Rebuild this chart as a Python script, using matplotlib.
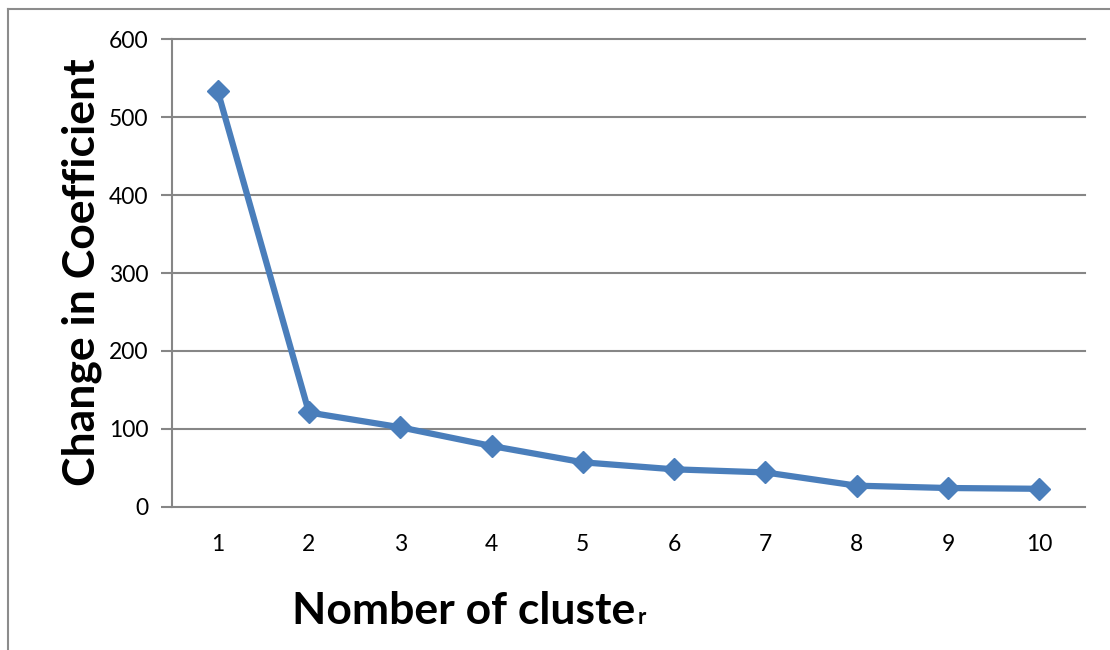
import matplotlib
matplotlib.use("Agg")
import matplotlib.pyplot as plt
from matplotlib.lines import Line2D

# Change in coefficient for each number of clusters
clusters = [1, 2, 3, 4, 5, 6, 7, 8, 9, 10]
change = [534, 121, 102, 78, 57, 48, 44, 27, 24, 23]
y_ticks = [0, 100, 200, 300, 400, 500, 600]

W, H = 1110, 650
fig = plt.figure(figsize=(W / 100, H / 100), dpi=100)
plt.rcParams["font.family"] = ["Lato", "DejaVu Sans"]

grid_col = "#868686"
line_col = "#4A7EBB"

ax = fig.add_axes([172 / W, 1 - 506.7 / H, (1085 - 172) / W, (506.7 - 39.5) / H])
ax.set_xlim(0.5, 10.5)
ax.set_ylim(0, 600)
ax.set_yticks(y_ticks)
ax.set_xticks(clusters)
ax.set_xticklabels([str(c) for c in clusters])
for yv in y_ticks[1:]:
    ax.axhline(yv, color=grid_col, linewidth=1.5, clip_on=False, zorder=1)
for side in ["top", "right"]:
    ax.spines[side].set_visible(False)
for side in ["left", "bottom"]:
    ax.spines[side].set_color(grid_col)
    ax.spines[side].set_linewidth(1.5)
ax.tick_params(axis="y", length=8, width=1.5, color=grid_col, labelsize=16.5, pad=9)
ax.tick_params(axis="x", length=0, labelsize=16.5, pad=20)

ax.plot(clusters, change, color=line_col, linewidth=4.5, marker="D",
        markersize=11, markerfacecolor=line_col, markeredgecolor=line_col,
        clip_on=False, zorder=3)

ax.set_ylabel("Change in Coefficient", fontsize=32, fontweight="bold")
ax.yaxis.set_label_coords(82 / W, 1 - 272 / H, transform=fig.transFigure)
ax.yaxis.label.set_va("center")

base_y = 1 - 624 / H
xl = fig.text(292 / W, base_y, "Nomber of cluste", fontsize=32,
              fontweight="bold", ha="left", va="baseline")
fig.canvas.draw()
x_end = xl.get_window_extent().x1
fig.text((x_end + 2) / W, base_y, "r", fontsize=16, fontweight="bold",
         ha="left", va="baseline")

# outer chart border
fig.add_artist(Line2D([8 / W, 8 / W], [0, 1 - 9 / H], transform=fig.transFigure,
                      color="#8c8c8c", linewidth=1.5))
fig.add_artist(Line2D([8 / W, 1], [1 - 9 / H, 1 - 9 / H], transform=fig.transFigure,
                      color="#8c8c8c", linewidth=1.5))

fig.savefig("out.png", dpi=100)
